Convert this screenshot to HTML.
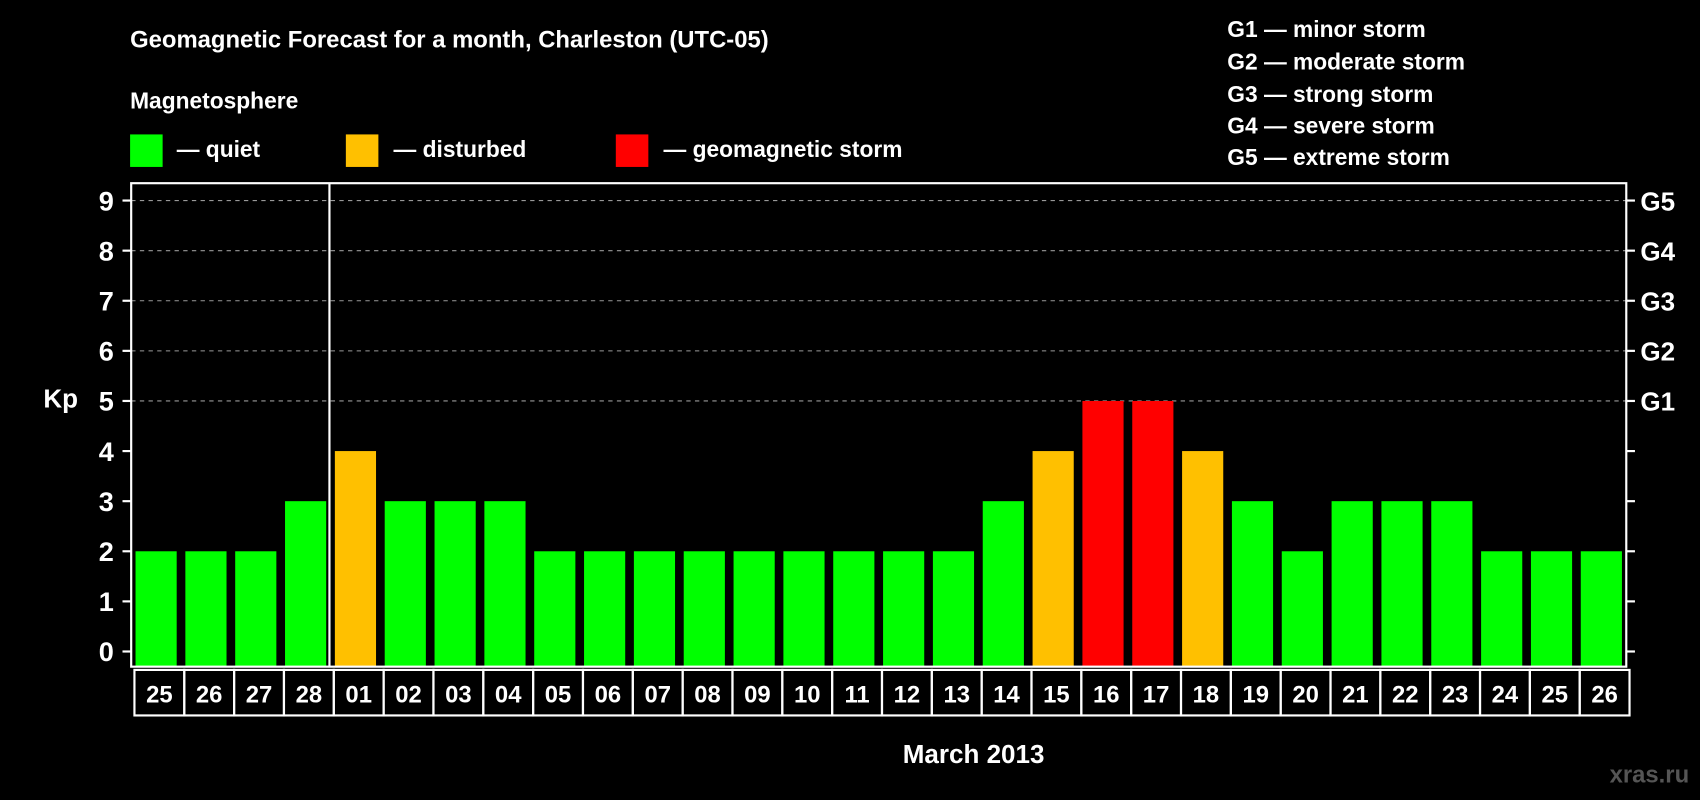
<!DOCTYPE html>
<html><head><meta charset="utf-8"><style>
html,body{margin:0;padding:0;background:#000;}
svg{display:block;font-family:"Liberation Sans",Arial,sans-serif;font-weight:bold;}
</style></head><body>
<svg id="chart" width="1700" height="800" viewBox="0 0 1568 738" preserveAspectRatio="none" xmlns="http://www.w3.org/2000/svg">
<rect x="0" y="0" width="1568" height="738" fill="#000"/>
<text x="120" y="44" fill="#fff" font-size="22">Geomagnetic Forecast for a month, Charleston (UTC-05)</text>
<text x="120" y="100" fill="#fff" font-size="21">Magnetosphere</text>
<g><rect x="120" y="124" width="30" height="30" fill="#00ff00"/><text x="163" y="145" fill="#fff" font-size="21">— quiet</text></g>
<g><rect x="319" y="124" width="30" height="30" fill="#ffc000"/><text x="363" y="145" fill="#fff" font-size="21">— disturbed</text></g>
<g><rect x="568" y="124" width="30" height="30" fill="#ff0000"/><text x="612" y="145" fill="#fff" font-size="21">— geomagnetic storm</text></g>
<g fill="#fff" font-size="21">
<text x="1132" y="34">G1 — minor storm</text>
<text x="1132" y="64">G2 — moderate storm</text>
<text x="1132" y="94">G3 — strong storm</text>
<text x="1132" y="123">G4 — severe storm</text>
<text x="1132" y="152">G5 — extreme storm</text>
</g>
<text x="40" y="376" fill="#fff" font-size="24">Kp</text>
<text x="898" y="704" fill="#fff" font-size="24" text-anchor="middle">March 2013</text>
<text x="1558" y="722" fill="#555" font-size="22" text-anchor="end">xras.ru</text>
<g id="grid"></g>
<g id="bars"></g>
<g id="axes"></g>
<g id="days"></g>
</svg>
<script>
const days = ["25","26","27","28","01","02","03","04","05","06","07","08","09","10","11","12","13","14","15","16","17","18","19","20","21","22","23","24","25","26","27"].slice(0,30);
const kpValues = [2,2,2,3,4,3,3,3,2,2,2,2,2,2,2,2,2,3,4,5,5,4,3,2,3,3,3,2,2,2,4];
const yTicks = [0,1,2,3,4,5,6,7,8,9];
const gLabels = ["G1","G2","G3","G4","G5"];
const gLevels = [5,6,7,8,9];
const monthStartIndex = 4;

const NS="http://www.w3.org/2000/svg";
const L=121,R=1500,T=169,B=615;
const y0=601,y9=185;
const y=v=>y0+(y9-y0)*v/9;
const slot=(R-L)/days.length;
const x=i=>L+slot*i;
function mk(tag,attrs,parent){const e=document.createElementNS(NS,tag);for(const k in attrs)e.setAttribute(k,attrs[k]);parent.appendChild(e);return e;}
const grid=document.getElementById('grid'),bars=document.getElementById('bars'),axes=document.getElementById('axes'),dg=document.getElementById('days');
yTicks.forEach(v=>{
  if(v>=5){const g=mk('line',{x1:L,x2:R,y1:y(v),y2:y(v),stroke:'#999','stroke-dasharray':'4 4','stroke-width':1},grid);
  
  }
  const t=mk('line',{x1:L-8,x2:L,y1:y(v),y2:y(v),stroke:'#fff','stroke-width':2},axes);
  
  
  const t2=mk('line',{x1:R,x2:R+8,y1:y(v),y2:y(v),stroke:'#fff','stroke-width':2},axes);
  
  
  const lb=mk('text',{x:L-16,y:y(v)+9,fill:'#fff','font-size':25,'text-anchor':'end'},axes);
  lb.textContent=v;
  
  
});
gLabels.forEach((g,i)=>{
  const lb=mk('text',{x:R+13,y:y(gLevels[i])+9,fill:'#fff','font-size':24},axes);
  lb.textContent=g;
  
  
});
days.forEach((d,i)=>{
  const v=kpValues[i];
  const col=v>=5?'#ff0000':(v>=4?'#ffc000':'#00ff00');
  const b=mk('rect',{x:x(i)+4,y:y(v),width:slot-8,height:B-y(v),fill:col},bars);
  
  
  const c=mk('rect',{x:x(i)+3,y:B+3,width:slot,height:42,fill:'none',stroke:'#fff','stroke-width':2},dg);
  
  
  const t=mk('text',{x:x(i)+3+slot/2,y:B+33,fill:'#fff','font-size':22,'text-anchor':'middle'},dg);
  t.textContent=d;
  
  
});
const fr=mk('rect',{x:L,y:T,width:R-L,height:B-T,fill:'none',stroke:'#fff','stroke-width':2},axes);


const ms=mk('line',{x1:x(monthStartIndex)-1,x2:x(monthStartIndex)-1,y1:T,y2:B,stroke:'#fff','stroke-width':2},axes);


</script>
</body></html>
